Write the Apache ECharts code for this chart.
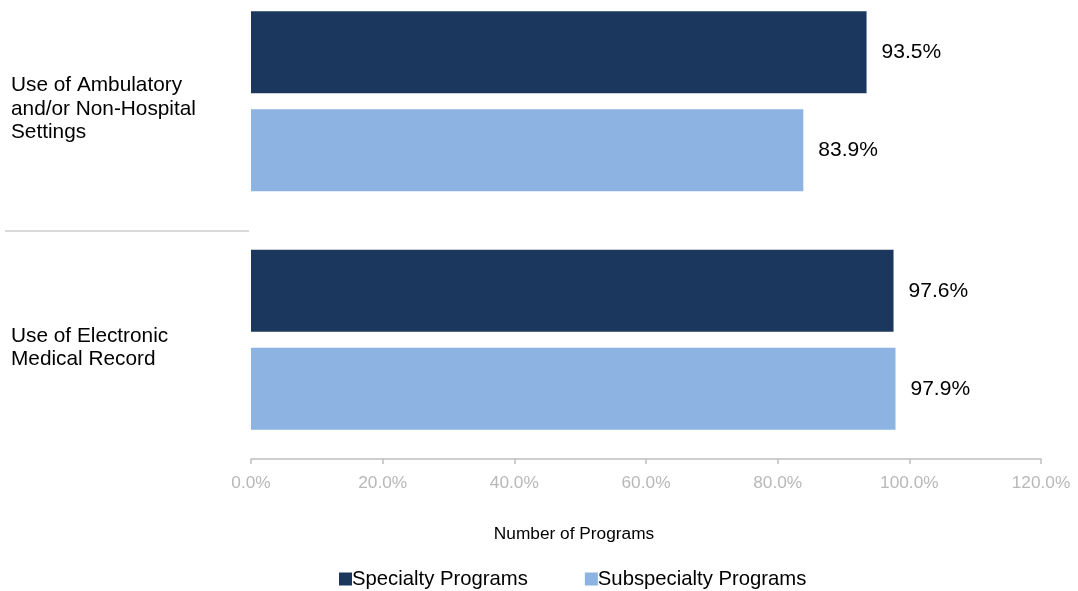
<!DOCTYPE html>
<html>
<head>
<meta charset="utf-8">
<script src="https://cdn.jsdelivr.net/npm/echarts@6/dist/echarts.min.js"></script>
<style>
    html, body {margin: 0; padding: 0; background: #fff; overflow: hidden;}
    /* chart is drawn 18px taller and pulled up: the top band is clipped like in the source */
    #chart {width: 1078px; height: 609px; position: relative; top: -18px;}
</style>
</head>
<body>
<div id="chart"></div>
<script>
var categories = ['Use of Ambulatory and/or Non-Hospital Settings', 'Use of Electronic Medical Record'];
var seriesNames = ['Specialty Programs', 'Subspecialty Programs'];
var specialty = [93.5, 97.6];
var subspecialty = [83.9, 97.9];
var xTicks = [0, 20, 40, 60, 80, 100, 120];

var font = 'Liberation Sans, Arial, sans-serif';
var catFontSize = 20.8;
var chart = echarts.init(document.getElementById('chart'));

var labelFmt = function (p) {
    return p.value.toFixed(1) + '%';
};

// word wrap category names to a max width, measured with canvas
var ctx = document.createElement('canvas').getContext('2d');
ctx.font = catFontSize + 'px ' + font;
var wrap = function (text, maxW) {
    var words = text.split(' '), lines = [], cur = '';
    for (var i = 0; i < words.length; ++i) {
        var t = cur ? cur + ' ' + words[i] : words[i];
        if (cur && ctx.measureText(t).width > maxW) {
            lines.push(cur);
            cur = words[i];
        } else {
            cur = t;
        }
    }
    if (cur) {
        lines.push(cur);
    }
    return lines;
};

var option = {
    animation: false,
    textStyle: {fontFamily: font},
    grid: {left: 251, right: 37, top: 0, bottom: 132},
    legend: {
        data: seriesNames,
        left: 334,
        top: 582,
        itemWidth: 13,
        itemHeight: 13,
        itemGap: 57,
        icon: 'rect',
        textStyle: {fontSize: 20.3, color: '#000', fontFamily: font, padding: [0, 0, 0, -5]}
    },
    xAxis: {
        type: 'value',
        min: xTicks[0],
        max: xTicks[xTicks.length - 1],
        interval: 20,
        name: 'Number of Programs',
        nameLocation: 'middle',
        nameGap: 67,
        nameTextStyle: {fontSize: 17.3, color: '#000', padding: [0, 144, 0, 0]},
        axisLine: {show: true, lineStyle: {color: '#bfbfbf', width: 1.5}},
        axisTick: {show: true, length: 5, lineStyle: {color: '#bfbfbf', width: 1.5}},
        axisLabel: {
            margin: 16,
            fontSize: 17.3,
            color: '#b8b8b8',
            formatter: function (v) {
                return v.toFixed(1) + '%';
            }
        },
        splitLine: {show: false}
    },
    yAxis: {
        type: 'category',
        inverse: true,
        data: categories,
        axisLine: {show: false},
        axisTick: {show: false},
        axisLabel: {
            align: 'left',
            margin: 240,
            fontSize: catFontSize,
            lineHeight: 23.5,
            color: '#000',
            // small empty first line pushes the label a bit below the band centre
            formatter: function (v) {
                return '{sp|\u200b}\n' + wrap(v, 200).join('\n');
            },
            rich: {
                sp: {fontSize: 1, lineHeight: 16}
            }
        }
    },
    series: [{
        name: seriesNames[0],
        type: 'bar',
        data: specialty,
        barWidth: 82,
        barGap: '19.5%',
        itemStyle: {color: '#1b375e'},
        label: {show: true, position: 'right', distance: 15, fontSize: 21, color: '#000', formatter: labelFmt}
    }, {
        name: seriesNames[1],
        type: 'bar',
        data: subspecialty,
        barWidth: 82,
        barGap: '19.5%',
        itemStyle: {color: '#8db3e2'},
        label: {show: true, position: 'right', distance: 15, fontSize: 21, color: '#000', formatter: labelFmt}
    }],
    graphic: [{
        type: 'line',
        shape: {x1: 5, y1: 249, x2: 249, y2: 249},
        style: {stroke: '#d9d9d9', lineWidth: 2}
    }]
};

chart.setOption(option);
</script>
</body>
</html>
